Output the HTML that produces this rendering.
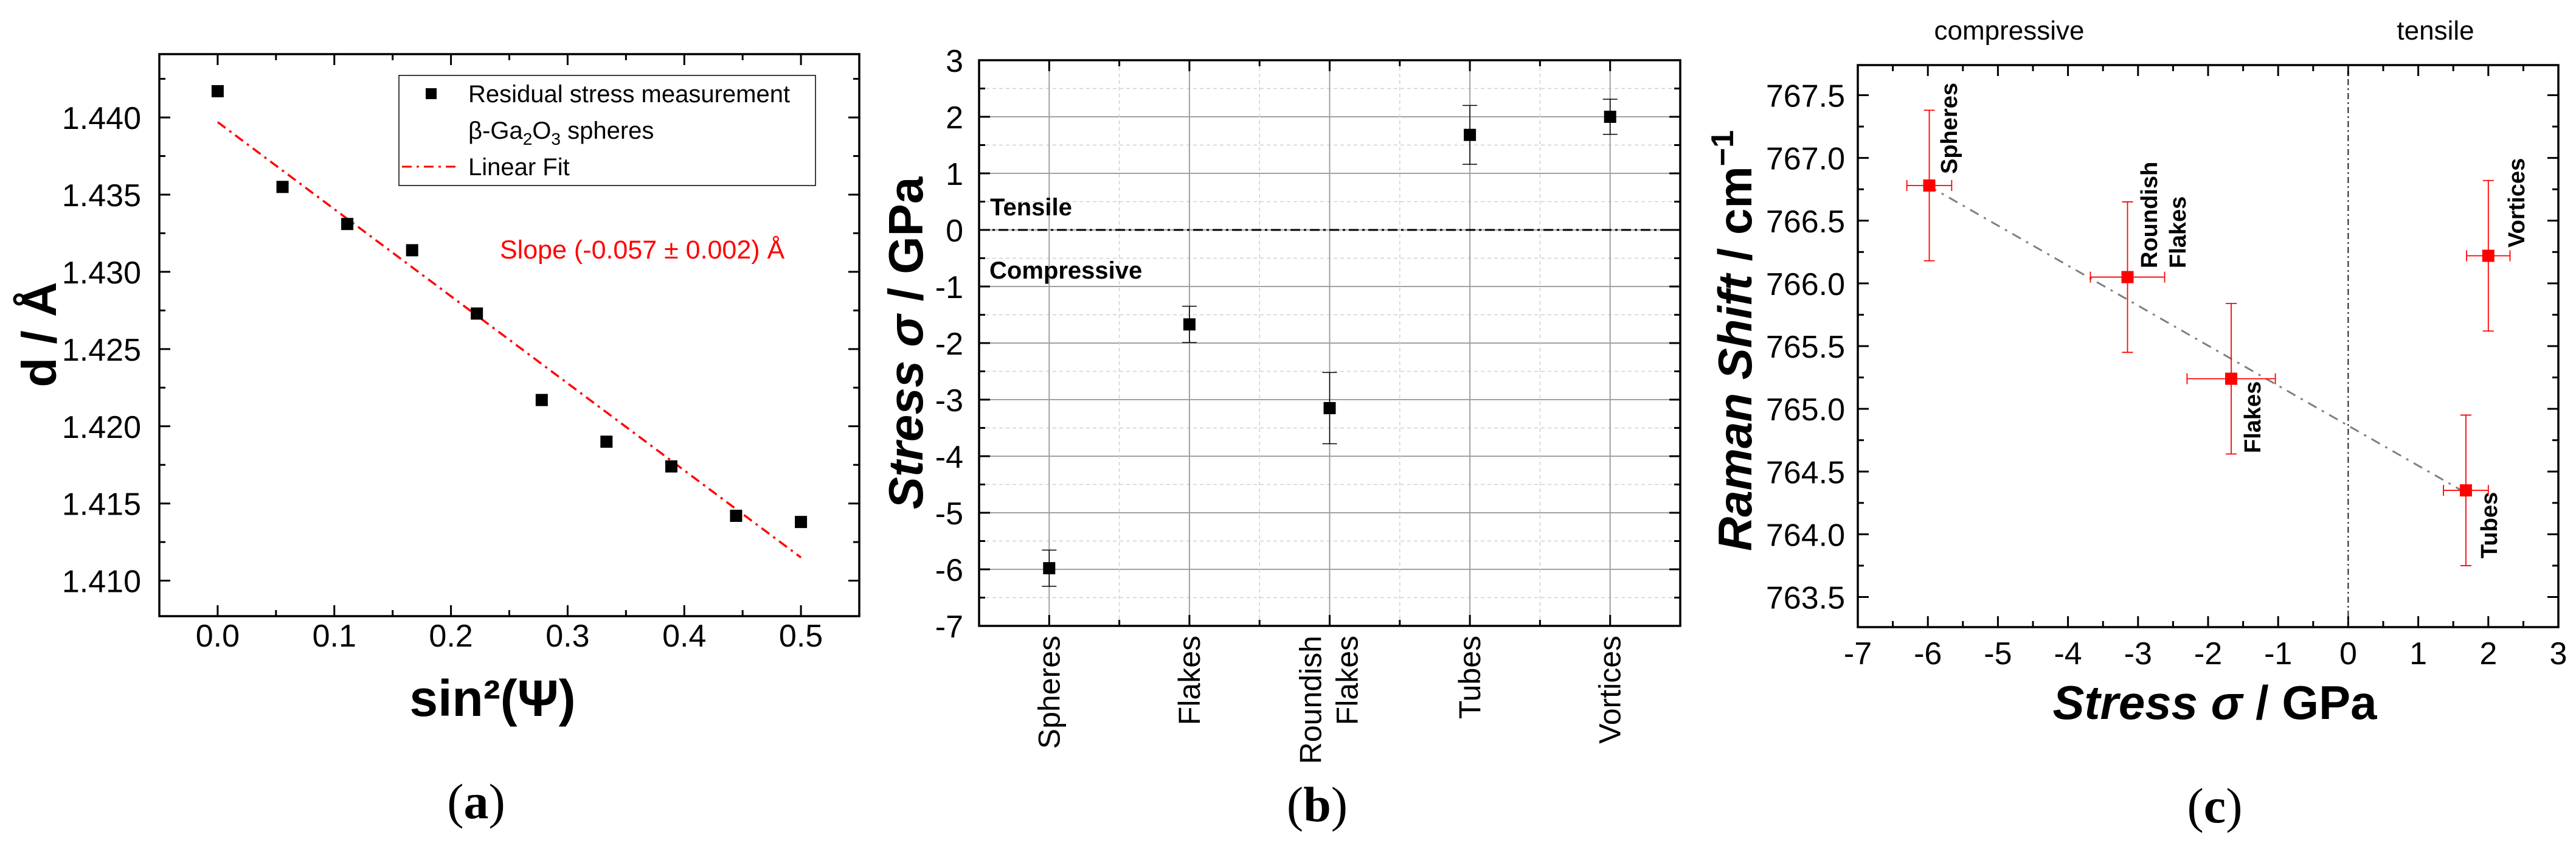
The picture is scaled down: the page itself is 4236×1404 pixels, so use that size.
<!DOCTYPE html>
<html><head><meta charset="utf-8"><style>
html,body{margin:0;padding:0;background:#fff;}
svg{display:block;font-family:"Liberation Sans",Arial,sans-serif;}
</style></head><body>
<svg id="fig" width="4236" height="1404" viewBox="0 0 4236 1404" xmlns="http://www.w3.org/2000/svg"></svg>
<script>
// ---- Panel (a) data ----
const aX = [0, 0.0556, 0.1111, 0.1667, 0.2222, 0.2778, 0.3333, 0.3889, 0.4444, 0.5];
const aY = [1.4417, 1.4355, 1.4331, 1.4314, 1.4273, 1.4217, 1.4190, 1.4174, 1.4142, 1.4138];
const aFitX = [0, 0.5];
const aFitY = [1.4397, 1.4115];
const aXTicks = ["0.0","0.1","0.2","0.3","0.4","0.5"];
const aYTicks = ["1.410","1.415","1.420","1.425","1.430","1.435","1.440"];
// ---- Panel (b) data ----
const bCats = ["Spheres","Flakes","Roundish Flakes","Tubes","Vortices"];
const bVals = [-5.98, -1.67, -3.15, 1.68, 2.0];
const bErr = [0.32, 0.32, 0.63, 0.52, 0.31];
const bYTicks = ["-7","-6","-5","-4","-3","-2","-1","0","1","2","3"];
// ---- Panel (c) data ----
const cNames = ["Spheres","Roundish Flakes","Flakes","Tubes","Vortices"];
const cX = [-5.98, -3.15, -1.67, 1.68, 2.0];
const cY = [766.78, 766.05, 765.24, 764.35, 766.22];
const cXErr = [0.32, 0.53, 0.63, 0.32, 0.31];
const cYErr = [0.6, 0.6, 0.6, 0.6, 0.6];
const cFitX = [-6.0, 1.68];
const cFitY = [766.78, 764.33];
const cXTicks = ["-7","-6","-5","-4","-3","-2","-1","0","1","2","3"];
const cYTicks = ["763.5","764.0","764.5","765.0","765.5","766.0","766.5","767.0","767.5"];

const NS = "http://www.w3.org/2000/svg";
const svg = document.getElementById('fig');
function mk(tag, attrs, parent, text){
  const e = document.createElementNS(NS, tag);
  for (const k in attrs) e.setAttribute(k, attrs[k]);
  if (text !== undefined) e.textContent = text;
  (parent || svg).appendChild(e);
  return e;
}
function lin(d0,d1,r0,r1){ return v => r0 + (v-d0)/(d1-d0)*(r1-r0); }

// ================= Panel A =================
const gA = mk('g', {});


const aL=262,aR=1413,aT=89,aB=1013;
const ax = lin(-0.05,0.55,aL,aR), ay = lin(1.4077,1.4441,aB,aT);
// ticks
for (let i=0;i<=12;i++){
  const v=-0.05+i*0.05; const x=ax(v); const major = (i%2===1);
  const len = major?18:10;
  const t1 = mk('line',{x1:x,y1:aB,x2:x,y2:aB-len,stroke:'#000','stroke-width':3},gA);
   
  const t2 = mk('line',{x1:x,y1:aT,x2:x,y2:aT+len,stroke:'#000','stroke-width':3},gA);
   
}
aXTicks.forEach((lab,i)=>{
  const t = mk('text',{x:ax(i*0.1),y:1063,'text-anchor':'middle','font-size':52},gA,lab);
   
});
for (let i=0;i<=14;i++){
  const v=1.4075+i*0.0025; const y=ay(v); if(y<aT||y>aB) continue;
  const major = (i%2===1); const len=major?18:10;
  const t1 = mk('line',{x1:aL,y1:y,x2:aL+len,y2:y,stroke:'#000','stroke-width':3},gA);
   
  const t2 = mk('line',{x1:aR,y1:y,x2:aR-len,y2:y,stroke:'#000','stroke-width':3},gA);
   
}
aYTicks.forEach((lab,i)=>{
  const t = mk('text',{x:232,y:ay(1.410+i*0.005)+19,'text-anchor':'end','font-size':52},gA,lab);
   
});
// fit
const aFit = mk('line',{x1:ax(aFitX[0]),y1:ay(aFitY[0]),x2:ax(aFitX[1]),y2:ay(aFitY[1]),stroke:'#ff0000','stroke-width':3.5,'stroke-dasharray':'16 8 4 8'},gA);
 
aX.forEach((v,i)=>{
  const r = mk('rect',{x:ax(v)-10,y:ay(aY[i])-10,width:20,height:20,fill:'#000'},gA);
   
});
const aFrame = mk('rect',{x:aL,y:aT,width:aR-aL,height:aB-aT,fill:'none',stroke:'#000','stroke-width':3.5},gA);
 
// legend
const lg = mk('g',{},gA);
 
mk('rect',{x:656,y:124,width:685,height:181,fill:'#fff',stroke:'#000','stroke-width':1.5},lg);
mk('rect',{x:700,y:145,width:18,height:18,fill:'#000'},lg);
mk('text',{x:770,y:168,'font-size':40},lg,'Residual stress measurement');
const lt2 = mk('text',{x:770,y:228,'font-size':40},lg);
lt2.innerHTML = 'β-Ga<tspan dy="10" font-size="28">2</tspan><tspan dy="-10">O</tspan><tspan dy="10" font-size="28">3</tspan><tspan dy="-10"> spheres</tspan>';
mk('line',{x1:661,y1:274,x2:750,y2:274,stroke:'#ff0000','stroke-width':3,'stroke-dasharray':'16 8 4 8'},lg);
mk('text',{x:770,y:288,'font-size':40},lg,'Linear Fit');
const sl = mk('text',{x:822,y:425,'font-size':43,fill:'#ff0000'},gA,'Slope (-0.057 ± 0.002) Å');
 
const aYT = mk('text',{x:0,y:0,'font-size':80,'font-weight':'bold','text-anchor':'middle',transform:'translate(92,550) rotate(-90)'},gA,'d / Å');
 
const aXT = mk('text',{x:810,y:1177,'font-size':84,'font-weight':'bold','text-anchor':'middle'},gA,'sin²(Ψ)');
 
const aLab = mk('text',{x:783,y:1345,'font-size':82,'text-anchor':'middle','font-family':'"Liberation Serif",serif'},gA);
aLab.innerHTML='(<tspan font-weight="bold">a</tspan>)';
 

// ================= Panel B =================
const gB = mk('g', {});


const bL=1610,bR=2763,bT=99,bB=1029;
const bx = lin(0,5,bL,bR), by = lin(-7,3,bB,bT);
// grid
for (let i=0;i<=20;i++){
  const v=-7+i*0.5; const y=by(v);
  if (i>0 && i<20){
    const g = mk('line',{x1:bL,y1:y,x2:bR,y2:y,stroke:i%2===0?'#a0a0a0':'#d0d0d0','stroke-width':i%2===0?2:1.5,'stroke-dasharray':i%2===0?'none':'6 5'},gB);
     
  }
  const len = i%2===0?18:10;
  mk('line',{x1:bL,y1:y,x2:bL+len,y2:y,stroke:'#000','stroke-width':3},gB);
  mk('line',{x1:bR,y1:y,x2:bR-len,y2:y,stroke:'#000','stroke-width':3},gB);
}
for (let i=1;i<10;i++){
  const x = bx(i*0.5); const major = i%2===1;
  const g = mk('line',{x1:x,y1:bT,x2:x,y2:bB,stroke:major?'#a0a0a0':'#d0d0d0','stroke-width':major?2:1.5,'stroke-dasharray':major?'none':'6 5'},gB);
   
  const len = major?18:10;
  mk('line',{x1:x,y1:bB,x2:x,y2:bB-len,stroke:'#000','stroke-width':3},gB);
  mk('line',{x1:x,y1:bT,x2:x,y2:bT+len,stroke:'#000','stroke-width':3},gB);
}
bYTicks.forEach((lab,i)=>{
  const t = mk('text',{x:1584,y:by(-7+i)+19,'text-anchor':'end','font-size':52},gB,lab);
   
});
const zl = mk('line',{x1:bL,y1:by(0),x2:bR,y2:by(0),stroke:'#000','stroke-width':3,'stroke-dasharray':'16 6 4 6'},gB);
 
const tn = mk('text',{x:1628,y:354,'font-size':40,'font-weight':'bold'},gB,'Tensile');
 
const cp = mk('text',{x:1627,y:458,'font-size':40,'font-weight':'bold'},gB,'Compressive');
 
bCats.forEach((c,i)=>{
  const x = bx(i+0.5), y = by(bVals[i]);
  const e1 = by(bVals[i]+bErr[i]), e2 = by(bVals[i]-bErr[i]);
  const eb = mk('path',{d:`M${x},${e1}V${e2}M${x-12},${e1}H${x+12}M${x-12},${e2}H${x+12}`,stroke:'#000','stroke-width':1.5,fill:'none'},gB);
   
  const r = mk('rect',{x:x-10,y:y-10,width:20,height:20,fill:'#000'},gB);
   
  const parts = c.split(' ');
  parts.forEach((p,j)=>{
    const off = parts.length>1 ? (j===0?-31:29) : 0;
    const t = mk('text',{x:0,y:0,'font-size':50,'text-anchor':'end','dominant-baseline':'central',transform:`translate(${x+off},1045) rotate(-90)`},gB,p);
     
  });
});
const bFrame = mk('rect',{x:bL,y:bT,width:bR-bL,height:bB-bT,fill:'none',stroke:'#000','stroke-width':3.5},gB);
 
const bYT = mk('text',{x:0,y:0,'font-size':80,'font-weight':'bold','text-anchor':'middle',transform:'translate(1517,564) rotate(-90)'},gB);
bYT.innerHTML='<tspan font-style="italic">Stress σ</tspan> / GPa';
 
const bLab = mk('text',{x:2166,y:1350,'font-size':82,'text-anchor':'middle','font-family':'"Liberation Serif",serif'},gB);
bLab.innerHTML='(<tspan font-weight="bold">b</tspan>)';
 

// ================= Panel C =================
const gC = mk('g', {});


const cL=3055,cR=4207,cT=107,cB=1031;
const cx = lin(-7,3,cL,cR), cy = lin(763.26,767.74,cB,cT);
for (let i=0;i<=20;i++){
  const x=cx(-7+i*0.5); const len=i%2===0?18:10;
  mk('line',{x1:x,y1:cB,x2:x,y2:cB-len,stroke:'#000','stroke-width':3},gC);
  mk('line',{x1:x,y1:cT,x2:x,y2:cT+len,stroke:'#000','stroke-width':3},gC);
}
cXTicks.forEach((lab,i)=>{
  const t = mk('text',{x:cx(-7+i),y:1092,'text-anchor':'middle','font-size':52},gC,lab);
   
});
for (let i=0;i<=18;i++){
  const v=763.25+i*0.25; const y=cy(v); if(y<cT||y>cB) continue;
  const len=i%2===1?18:10;
  mk('line',{x1:cL,y1:y,x2:cL+len,y2:y,stroke:'#000','stroke-width':3},gC);
  mk('line',{x1:cR,y1:y,x2:cR-len,y2:y,stroke:'#000','stroke-width':3},gC);
}
cYTicks.forEach((lab,i)=>{
  const t = mk('text',{x:3034,y:cy(763.5+i*0.5)+19,'text-anchor':'end','font-size':52},gC,lab);
   
});
const vz = mk('line',{x1:cx(0),y1:cT,x2:cx(0),y2:cB,stroke:'#222','stroke-width':2,'stroke-dasharray':'10 5 3 5'},gC);
 
const cf = mk('line',{x1:cx(cFitX[0]),y1:cy(cFitY[0]),x2:cx(cFitX[1]),y2:cy(cFitY[1]),stroke:'#808080','stroke-width':3,'stroke-dasharray':'16 10 4 10'},gC);
 
const cLabPos = [[1,-14],[1,-14],[1,-14],[1,-14],[1,-14]];
cNames.forEach((n,i)=>{
  const x=cx(cX[i]), y=cy(cY[i]);
  const x1=cx(cX[i]-cXErr[i]), x2=cx(cX[i]+cXErr[i]);
  const y1=cy(cY[i]+cYErr[i]), y2=cy(cY[i]-cYErr[i]);
  const eb = mk('path',{d:`M${x},${y1}V${y2}M${x-9},${y1}H${x+9}M${x-9},${y2}H${x+9}M${x1},${y}H${x2}M${x1},${y-9}V${y+9}M${x2},${y-9}V${y+9}`,stroke:'#ff0000','stroke-width':1.8,fill:'none'},gC);
   
  const r = mk('rect',{x:x-10,y:y-10,width:20,height:20,fill:'#ff0000'},gC);
   
});
// rotated labels near points
const cAnn = [["Spheres",3206,286],["Roundish",3535,441],["Flakes",3582,441],["Flakes",3705,745],["Tubes",4094,918],["Vortices",4139,407]];
cAnn.forEach(a=>{
  const t = mk('text',{x:0,y:0,'font-size':38,'font-weight':'bold','dominant-baseline':'central',transform:`translate(${a[1]},${a[2]}) rotate(-90)`},gC,a[0]);
   
});
const cFrame = mk('rect',{x:cL,y:cT,width:cR-cL,height:cB-cT,fill:'none',stroke:'#000','stroke-width':3.5},gC);
 
const comp = mk('text',{x:3304,y:65,'font-size':44,'text-anchor':'middle'},gC,'compressive');
 
const tens = mk('text',{x:4005,y:65,'font-size':44,'text-anchor':'middle'},gC,'tensile');
 
const cXT = mk('text',{x:3642,y:1182,'font-size':78,'font-weight':'bold','text-anchor':'middle'},gC);
cXT.innerHTML='<tspan font-style="italic">Stress σ</tspan> / GPa';
 
const cYT = mk('text',{x:0,y:0,'font-size':78,'font-weight':'bold','text-anchor':'middle',transform:'translate(2880,560) rotate(-90)'},gC);
cYT.innerHTML='<tspan font-style="italic">Raman Shift</tspan> / cm<tspan dy="-30" font-size="52">−1</tspan>';
 
const cLab = mk('text',{x:3642,y:1352,'font-size':82,'text-anchor':'middle','font-family':'"Liberation Serif",serif'},gC);
cLab.innerHTML='(<tspan font-weight="bold">c</tspan>)';
 
</script>
</body></html>
